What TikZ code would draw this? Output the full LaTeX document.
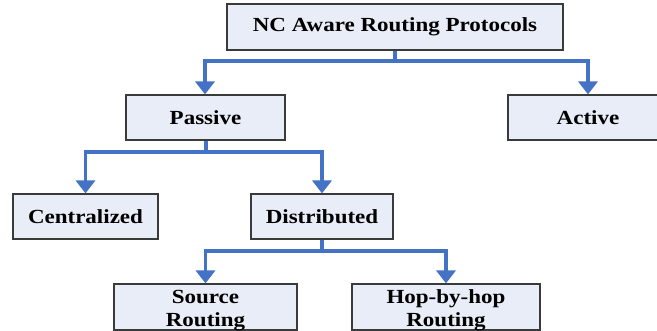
\documentclass[tikz,border=0pt]{standalone}
\usepackage{fontspec}
\setmainfont[FakeStretch=1.15]{Liberation Serif}
\usetikzlibrary{arrows.meta}
\definecolor{boxfill}{HTML}{E8EDF7}
\definecolor{boxline}{HTML}{3A3A3A}
\definecolor{connblue}{HTML}{4472C4}
\tikzset{
  catbox/.style={draw=boxline, line width=1.1pt, fill=boxfill, rectangle,
    font=\fontsize{20}{23}\selectfont\bfseries, align=center, inner sep=0pt},
  bus/.style={draw=connblue, line width=3.4pt},
  conn/.style={bus, -{Triangle[width=19pt,length=13pt]}},
}
% two stacked lines, drawn a little lower than their box's centre
\newcommand{\twolines}[2]{\raisebox{-3pt}[\height][\depth]{\begin{tabular}{@{}c@{}}#1\\#2\end{tabular}}}
\begin{document}
\begin{tikzpicture}[x=1pt,y=-1pt]
  \useasboundingbox (0,0) rectangle (657,331);
  \clip (0,0) rectangle (657,331);
  % category boxes
  \node[catbox, minimum width=336pt, minimum height=46pt] (root) at (395,27) {NC Aware Routing Protocols};
  \node[catbox, minimum width=159pt, minimum height=45pt] (passive) at (205.5,117.5) {Passive};
  \node[catbox, minimum width=160pt, minimum height=45pt] (active) at (588,117.5) {Active};
  \node[catbox, minimum width=145pt, minimum height=45pt] (central) at (85.5,216.5) {Centralized};
  \node[catbox, minimum width=142pt, minimum height=45pt] (distrib) at (322,216.5) {Distributed};
  \node[catbox, minimum width=183pt, minimum height=46pt] (source) at (205.5,307) {\twolines{Source}{Routing}};
  \node[catbox, minimum width=188pt, minimum height=46pt] (hop) at (446,307) {\twolines{Hop-by-hop}{Routing}};
  % bus points of the elbow connectors
  \coordinate (busA) at (395,61);
  \coordinate (busB) at (206,152);
  \coordinate (busC) at (322,251);
  % connectors
  \draw[bus] (root.south) -- (busA);
  \draw[conn] (busA) -| ([xshift=-0.5pt]passive.north);
  \draw[conn] (busA) -| (active.north);
  \draw[bus] (passive.south -| busB) -- (busB);
  \draw[conn] (busB) -| (central.north);
  \draw[conn] (busB) -| (distrib.north);
  \draw[bus] (distrib.south) -- (busC);
  \draw[conn] (busC) -| (source.north);
  \draw[conn] (busC) -| (hop.north);
\end{tikzpicture}
\end{document}
